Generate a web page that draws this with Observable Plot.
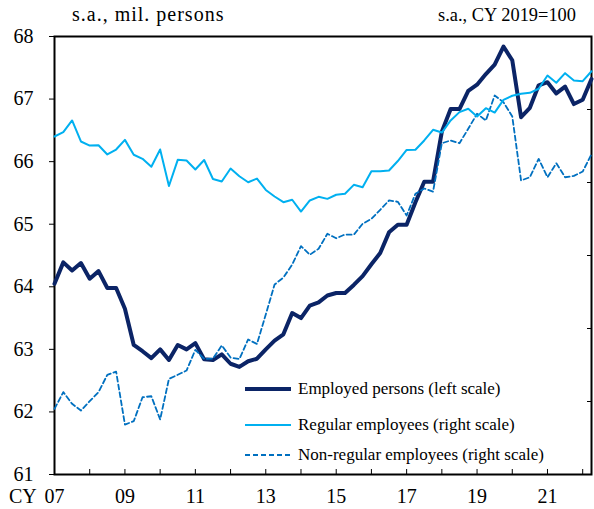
<!DOCTYPE html>
<html><head><meta charset="utf-8">
<script src="https://cdn.jsdelivr.net/npm/d3@7"></script>
<script src="https://cdn.jsdelivr.net/npm/@observablehq/plot@0.6"></script>
<style>
html,body{margin:0;padding:0;background:#fff;}
#chart{position:relative;width:594px;height:509px;font-family:"Liberation Serif","Times New Roman",serif;color:#000;overflow:hidden;}
#chart > svg{position:absolute;left:0;top:0;}
.hdr{position:absolute;top:3px;font-size:18px;white-space:nowrap;line-height:24px;}
.lg{position:absolute;left:245px;height:20px;display:flex;align-items:center;font-size:17px;white-space:nowrap;}
.lg svg{margin-right:7px;}
</style></head><body>
<div id="chart"></div>
<script>
// ---- data (quarterly, CY2007Q1 - CY2022Q2) ----
const startYear = 2007;
const employed = [64.05,64.39,64.26,64.38,64.13,64.25,63.98,63.98,63.65,63.07,
  62.97,62.86,63.00,62.83,63.07,63.00,63.10,62.84,62.83,62.92,
  62.77,62.72,62.81,62.85,63.00,63.14,63.24,63.58,63.50,63.70,
  63.75,63.86,63.90,63.90,64.03,64.17,64.36,64.54,64.87,64.99,
  64.99,65.35,65.68,65.68,66.48,66.84,66.84,67.13,67.23,67.40,
  67.55,67.84,67.62,66.71,66.86,67.22,67.27,67.09,67.20,66.92,
  66.99,67.32];
const regular = [98.15,98.45,99.25,97.81,97.53,97.55,96.92,97.26,97.92,96.90,
  96.62,96.08,97.26,94.76,96.55,96.51,95.89,96.54,95.24,95.07,
  95.96,95.43,95.02,95.27,94.49,94.04,93.65,93.82,93.01,93.77,
  94.02,93.88,94.16,94.23,94.84,94.68,95.77,95.77,95.82,96.47,
  97.23,97.24,97.88,98.61,98.42,99.25,99.82,100.05,99.52,100.09,
  99.79,100.66,100.94,101.08,101.14,101.42,102.33,101.83,102.49,101.99,
  101.94,102.62];
const nonRegular = [79.50,80.64,79.84,79.38,80.02,80.64,81.83,82.05,78.42,78.65,
  80.29,80.36,78.77,81.55,81.83,82.12,83.54,82.92,82.94,83.84,
  83.01,82.91,84.25,83.94,85.96,88.01,88.49,89.38,90.64,90.05,
  90.46,91.49,91.18,91.44,91.42,92.17,92.51,93.13,93.77,93.68,
  92.74,94.23,94.59,94.37,97.69,97.88,97.69,98.68,99.71,99.25,
  100.96,100.50,99.52,95.14,95.36,96.62,95.36,96.32,95.36,95.45,
  95.75,96.94];
const leftTicks = [61,62,63,64,65,66,67,68];
const rightTicks = [80,85,90,95,100];
const tickYears = [2008,2009,2010,2011,2012,2013,2014,2015,2016,2017,2018,2019,2020,2021,2022];
const labelYears = [2007,2009,2011,2013,2015,2017,2019,2021];
const labelText = ["07","09","11","13","15","17","19","21"];
const seriesNames = ["Employed persons (left scale)","Regular employees (right scale)","Non-regular employees (right scale)"];
const colors = {employed:"#0b2466", regular:"#00b0f0", nonRegular:"#0070c0"};

const t = employed.map((_, i) => startYear + i / 4);
const empData = t.map((x, i) => ({t: x, v: employed[i]}));
const regData = t.map((x, i) => ({t: x, v: regular[i]}));
const nonData = t.map((x, i) => ({t: x, v: nonRegular[i]}));

const font = '"Liberation Serif","Times New Roman",serif';
const base = {width:594, height:509, marginLeft:54, marginRight:3, marginTop:36, marginBottom:35,
  style:{fontFamily:font, background:"transparent", color:"#000", overflow:"visible"}};
const xDomain = [2007, 2022.25];

const leftPlot = Plot.plot({...base,
  x:{domain:xDomain, label:null}, y:{domain:[61,68], label:null},
  marks:[
    Plot.axisY(leftTicks, {tickSize:5, tickPadding:16, fontSize:20, label:null, tickFormat:d => String(d)}),
    Plot.axisX(labelYears, {tickSize:0, tickPadding:14, fontSize:20, label:null, tickFormat:d => labelText[labelYears.indexOf(d)]}),
    Plot.axisX(tickYears, {tickSize:-5, label:null, tickFormat:() => ""}),
    Plot.frame({stroke:"#000", strokeWidth:2}),
    Plot.line(empData, {x:"t", y:"v", stroke:colors.employed, strokeWidth:4})
  ]});

const rightPlot = Plot.plot({...base,
  x:{domain:xDomain, axis:null, label:null}, y:{domain:[75,105], label:null},
  marks:[
    Plot.axisY(rightTicks, {anchor:"right", tickSize:-5, label:null, tickFormat:() => ""}),
    Plot.line(nonData, {x:"t", y:"v", stroke:colors.nonRegular, strokeWidth:1.8, strokeDasharray:"5,3"}),
    Plot.line(regData, {x:"t", y:"v", stroke:colors.regular, strokeWidth:2})
  ]});

const chart = document.getElementById("chart");
chart.append(leftPlot, rightPlot);

function addDiv(cls, text, style) {
  const d = document.createElement("div");
  d.className = cls; d.textContent = text; Object.assign(d.style, style);
  chart.append(d); return d;
}
addDiv("hdr", "s.a., mil. persons", {left:"72px", fontSize:"20px", letterSpacing:"1px", top:"2px"});
addDiv("hdr", "s.a., CY 2019=100", {right:"18px", fontSize:"18.4px"});
addDiv("hdr", "CY", {left:"9px", top:"484px", fontSize:"20px"});

const lgTops = [379, 415, 445];
const lgStyles = [
  {stroke:colors.employed, width:4, dash:null},
  {stroke:colors.regular, width:2, dash:null},
  {stroke:colors.nonRegular, width:1.8, dash:"5,3"}];
seriesNames.forEach((name, i) => {
  const d = document.createElement("div");
  d.className = "lg"; d.style.top = lgTops[i] + "px";
  const s = lgStyles[i];
  d.innerHTML = `<svg width="46" height="10"><line x1="0" x2="46" y1="5" y2="5" stroke="${s.stroke}" stroke-width="${s.width}" ${s.dash ? `stroke-dasharray="${s.dash}"` : ""}/></svg><span>${name}</span>`;
  chart.append(d);
});
</script>
</body></html>
